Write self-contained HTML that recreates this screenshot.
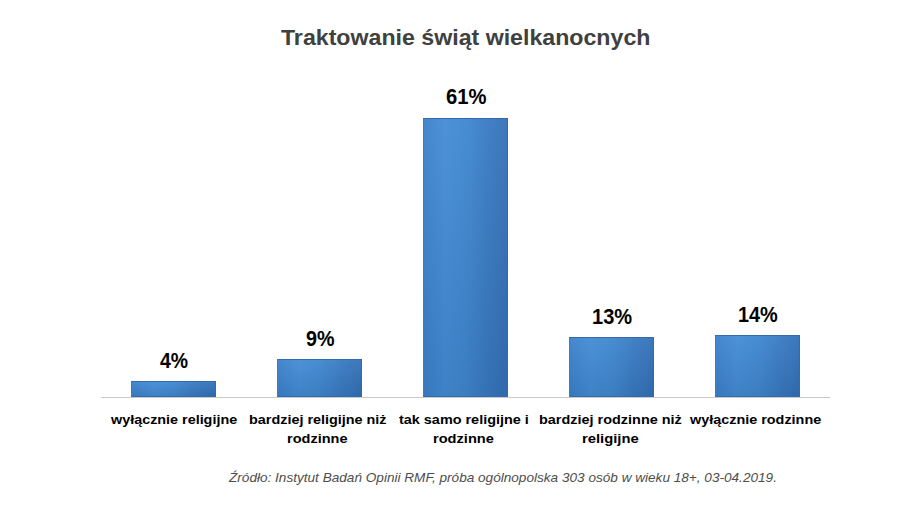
<!DOCTYPE html>
<html><head><meta charset="utf-8"><style>
html,body{margin:0;padding:0;background:#fff;}
body{width:915px;height:513px;position:relative;overflow:hidden;font-family:"Liberation Sans",sans-serif;}
.t{position:absolute;white-space:pre;line-height:1;transform-origin:0 0;}
.bar{position:absolute;box-sizing:border-box;background:linear-gradient(180deg,rgba(255,255,255,0.05),rgba(0,0,0,0.07)),linear-gradient(90deg,#3b81cb 0%,#438bd4 25%,#3f87cf 50%,#3879c1 78%,#3271b7 100%);border:1px solid #3569ad;border-left-color:#3b7cc4;}
.axis{position:absolute;left:101px;top:397px;width:729px;height:1px;background:#c9c9c9;}
</style></head><body>
<div class="axis"></div>
<div class="bar" style="left:131px;top:381px;width:85px;height:16px"></div><div class="bar" style="left:277px;top:359px;width:85px;height:38px"></div><div class="bar" style="left:423px;top:118px;width:85px;height:279px"></div><div class="bar" style="left:569px;top:337px;width:85px;height:60px"></div><div class="bar" style="left:714.5px;top:335px;width:85.5px;height:62px"></div>
<div class="t" style="left:280.77px;top:27.43px;font-size:22.2px;font-weight:bold;font-style:normal;color:#404040;transform:scaleX(1.0439)">Traktowanie świąt wielkanocnych</div><div class="t" style="left:160.01px;top:351.01px;font-size:21.4px;font-weight:bold;font-style:normal;color:#000;transform:scaleX(0.9079)">4%</div><div class="t" style="left:305.81px;top:329.01px;font-size:21.4px;font-weight:bold;font-style:normal;color:#000;transform:scaleX(0.9210)">9%</div><div class="t" style="left:445.69px;top:86.61px;font-size:21.4px;font-weight:bold;font-style:normal;color:#000;transform:scaleX(0.9443)">61%</div><div class="t" style="left:591.80px;top:307.01px;font-size:21.4px;font-weight:bold;font-style:normal;color:#000;transform:scaleX(0.9370)">13%</div><div class="t" style="left:737.81px;top:305.01px;font-size:21.4px;font-weight:bold;font-style:normal;color:#000;transform:scaleX(0.9297)">14%</div><div class="t" style="left:110.70px;top:412.52px;font-size:13.5px;font-weight:bold;font-style:normal;color:#000;transform:scaleX(1.0641)">wyłącznie religijne</div><div class="t" style="left:248.59px;top:412.52px;font-size:13.5px;font-weight:bold;font-style:normal;color:#000;transform:scaleX(1.0660)">bardziej religijne niż</div><div class="t" style="left:286.98px;top:432.32px;font-size:13.5px;font-weight:bold;font-style:normal;color:#000;transform:scaleX(1.0764)">rodzinne</div><div class="t" style="left:398.86px;top:412.52px;font-size:13.5px;font-weight:bold;font-style:normal;color:#000;transform:scaleX(1.0679)">tak samo religijne i</div><div class="t" style="left:432.68px;top:432.32px;font-size:13.5px;font-weight:bold;font-style:normal;color:#000;transform:scaleX(1.0819)">rodzinne</div><div class="t" style="left:539.49px;top:412.52px;font-size:13.5px;font-weight:bold;font-style:normal;color:#000;transform:scaleX(1.0695)">bardziej rodzinne niż</div><div class="t" style="left:582.27px;top:432.32px;font-size:13.5px;font-weight:bold;font-style:normal;color:#000;transform:scaleX(1.0942)">religijne</div><div class="t" style="left:690.00px;top:412.52px;font-size:13.5px;font-weight:bold;font-style:normal;color:#000;transform:scaleX(1.0662)">wyłącznie rodzinne</div><div class="t" style="left:228.77px;top:470.72px;font-size:13.5px;font-weight:normal;font-style:italic;color:#4d4d4d;transform:scaleX(1.0068)">Źródło: Instytut Badań Opinii RMF, próba ogólnopolska 303 osób w wieku 18+, 03-04.2019.</div>
</body></html>
